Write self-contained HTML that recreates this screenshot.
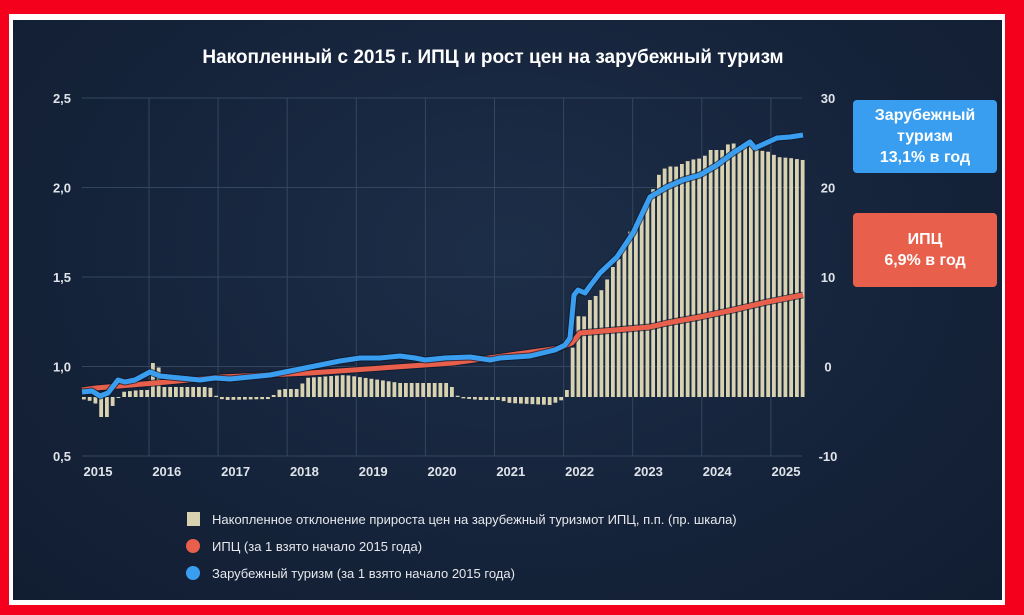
<!DOCTYPE html>
<html><head><meta charset="utf-8"><style>
html,body{margin:0;padding:0;background:#f4001c;width:1024px;height:615px;overflow:hidden}
#w{position:absolute;left:9px;top:14px;width:996px;height:591px;background:#fff}
#p{position:absolute;left:13px;top:20px;width:989px;height:580px;background:radial-gradient(ellipse at 50% 40%,#1d2e48 0%,#15233a 60%,#111d31 100%)}
svg{position:absolute;left:0;top:0}
text{font-family:"Liberation Sans","DejaVu Sans",sans-serif}
.box{position:absolute;color:#fff;font:bold 16px "Liberation Sans","DejaVu Sans",sans-serif;text-align:center;border-radius:4px;display:flex;align-items:center;justify-content:center;line-height:21px}
</style></head><body>
<div id="w"></div><div id="p"></div>
<svg id="s" width="1024" height="615"></svg>
<div class="box" style="left:853px;top:100px;width:144px;height:73px;background:#3a9ef0">Зарубежный<br>туризм<br>13,1% в год</div>
<div class="box" style="left:853px;top:213px;width:144px;height:74px;background:#e8604c">ИПЦ<br>6,9% в год</div>
<script>
const s=document.getElementById('s');let h='';
h+='<text x="493" y="63" fill="#fff" font-size="19" font-weight="bold" text-anchor="middle">Накопленный с 2015 г. ИПЦ и рост цен на зарубежный туризм</text>';
// grid
[98,187.5,277,366.5,456].forEach(y=>h+=`<line x1="82" x2="802" y1="${y}" y2="${y}" stroke="#34465f" stroke-width="1"/>`);
for(let k=0;k<10;k++){let x=149+k*69.1;h+=`<line x1="${x}" x2="${x}" y1="98" y2="456" stroke="#34465f" stroke-width="1"/>`;}
['2,5','2,0','1,5','1,0','0,5'].forEach((t,i)=>h+=`<text x="62" y="${103+i*89.5}" fill="#dfe3ea" font-size="13" font-weight="bold" text-anchor="middle">${t}</text>`);
['30','20','10','0','-10'].forEach((t,i)=>h+=`<text x="828" y="${103+i*89.5}" fill="#dfe3ea" font-size="13" font-weight="bold" text-anchor="middle">${t}</text>`);
for(let k=0;k<11;k++){h+=`<text x="${98+k*68.8}" y="476" fill="#dfe3ea" font-size="13" font-weight="bold" text-anchor="middle">${2015+k}</text>`;}
function interp(pts,x){if(x<=pts[0][0])return pts[0][1];for(let i=1;i<pts.length;i++){if(x<=pts[i][0]){let a=pts[i-1],b=pts[i];return a[1]+(b[1]-a[1])*(x-a[0])/(b[0]-a[0]);}}return pts[pts.length-1][1];}
const bars=[[82,399],[95,402],[100,417],[108,417],[112,407],[117,400],[122,392],[140,390],[150,390],[152,363],[158,363],[162,387],[210,387],[214,393],[218,398],[225,400],[270,399],[272,395],[276,395],[280,389],[300,389],[305,378],[345,375],[380,380],[400,383],[450,383],[455,393],[460,398],[480,400],[500,400],[510,403],[550,405],[562,400],[568,388],[574,337],[577,315],[583,320],[590,300],[600,293],[607,280],[613,267],[620,257],[627,237],[633,227],[640,220],[647,203],[653,190],[657,177],[668,165],[673,168],[680,165],[690,160],[703,158],[710,150],[723,150],[732,140],[737,150],[750,143],[757,150],[770,152],[777,157],[790,158],[803,160]];
for(let i=0;i<126;i++){let x=82+i*5.75;let t=interp(bars,x+2);let y0=397;h+=`<rect x="${x}" y="${Math.min(t,y0)}" width="3.8" height="${Math.max(1,Math.abs(y0-t))}" fill="#d8d2b1"/>`;}
const red=[[82,390],[96,388],[167,382],[221,377],[310,373],[453,363],[560,348],[572,343],[580,333],[650,327],[667,323],[700,317],[733,310],[767,302],[803,295]];
const blue=[[82,392],[92,391],[100,396],[108,393],[118,380],[125,382],[135,380],[150,372],[160,376],[180,378],[200,380],[215,378],[230,379],[250,377],[270,375],[285,372],[300,369],[320,365],[340,361],[360,358],[380,358],[400,356],[415,358],[425,360],[445,358],[470,357],[490,360],[500,358],[530,356],[555,350],[565,345],[570,338],[574,295],[578,290],[585,293],[590,286],[600,273],[617,257],[633,233],[650,197],[667,187],[683,180],[700,175],[717,165],[733,153],[750,142],[755,148],[777,138],[790,137],[803,135]];
const pl=p=>p.map(q=>q.join(',')).join(' ');
h+=`<polyline points="${pl(red)}" fill="none" stroke="#0d1626" stroke-width="7" stroke-linejoin="round" opacity=".7"/>`;
h+=`<polyline points="${pl(red)}" fill="none" stroke="#e8604c" stroke-width="5" stroke-linejoin="round"/>`;
h+=`<polyline points="${pl(blue)}" fill="none" stroke="#0d1626" stroke-width="7" stroke-linejoin="round" opacity=".7"/>`;
h+=`<polyline points="${pl(blue)}" fill="none" stroke="#3a9ef0" stroke-width="5" stroke-linejoin="round"/>`;
// legend
h+=`<rect x="187" y="512" width="13" height="14" fill="#d8d2b1"/>`;
h+=`<text x="212" y="524" fill="#e6e8ec" font-size="13">Накопленное отклонение прироста цен на зарубежный туризмот ИПЦ, п.п. (пр. шкала)</text>`;
h+=`<circle cx="193" cy="546" r="7" fill="#e8604c"/><text x="212" y="551" fill="#e6e8ec" font-size="13">ИПЦ (за 1 взято начало 2015 года)</text>`;
h+=`<circle cx="193" cy="573" r="7" fill="#3a9ef0"/><text x="212" y="578" fill="#e6e8ec" font-size="13">Зарубежный туризм (за 1 взято начало 2015 года)</text>`;
s.innerHTML=h;
</script>
</body></html>
